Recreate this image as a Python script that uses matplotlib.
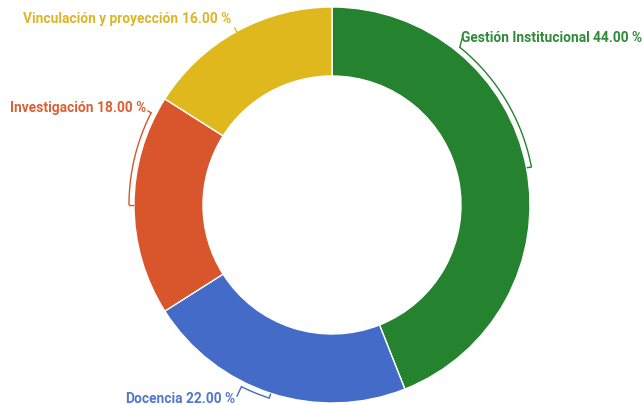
import numpy as np
import matplotlib
matplotlib.use("Agg")
import matplotlib.pyplot as plt

categories = ["Gestión Institucional", "Docencia", "Investigación", "Vinculación y proyección"]
values = [44.0, 22.0, 18.0, 16.0]
colors = ["#25832f", "#446bc8", "#d9552b", "#dfb81d"]
text_colors = ["#2f8a38", "#5277cc", "#dc5f36", "#ddb52a"]

W, H = 644, 406
fig = plt.figure(figsize=(W / 100, H / 100), dpi=100)
ax = fig.add_axes([0, 0, 1, 1])

cx, cy = 332, H - 206
R, r_in = 198, 129

ax.pie(values, colors=colors, startangle=90, counterclock=False,
       center=(cx, cy), radius=R, frame=True,
       wedgeprops=dict(width=R - r_in, edgecolor="white", linewidth=1))
ax.set_xlim(0, W)
ax.set_ylim(0, H)
ax.set_aspect("equal")
ax.axis("off")

def pt(angle_deg, rad):
    a = np.deg2rad(angle_deg)
    return cx + rad * np.sin(a), cy + rad * np.cos(a)

cum = np.cumsum([0] + values[:-1])
mids = [(c + v / 2) * 3.6 for c, v in zip(cum, values)]
bracket_ends = [39.0, 206.5, 297.0, mids[3]]
leader_to = [(462, 40), (237, 397), (148, 112), (237, 33)]
text_pos = [(461, 38, "left"), (235, 399, "right"), (146, 108, "right"), (231, 19, "right")]

rb = 203
fig.canvas.draw()
renderer = fig.canvas.get_renderer()
fs = 9.9
for i in range(4):
    col = colors[i]
    a0, a1 = mids[i], bracket_ends[i]
    if abs(a1 - a0) > 0.5:
        ang = np.linspace(a0, a1, 60)
        xs, ys = zip(*[pt(a, rb) for a in ang])
        ax.plot(xs, ys, color=col, lw=1, solid_capstyle="butt")
        x1, y1 = pt(a0, rb)
        x2, y2 = pt(a0, rb - 4)
        ax.plot([x1, x2], [y1, y2], color=col, lw=1)
        sx, sy = pt(a1, rb)
    else:
        sx, sy = pt(a1, rb - 1)
    lx, ly = leader_to[i]
    ax.plot([sx, lx], [sy, H - ly], color=col, lw=1)

    tx, ty, ha = text_pos[i]
    name = categories[i]
    num = f"{values[i]:.2f} %"
    kw = dict(color=text_colors[i], fontsize=fs, fontfamily="Roboto",
              fontweight="bold", va="center")
    gap = 3.5
    if ha == "left":
        t1 = ax.text(tx, H - ty, name, ha="left", **kw)
        bb = t1.get_window_extent(renderer)
        ax.text(bb.x1 + gap, H - ty, num, ha="left", **kw)
    else:
        t2 = ax.text(tx, H - ty, num, ha="right", **kw)
        bb = t2.get_window_extent(renderer)
        ax.text(bb.x0 - gap, H - ty, name, ha="right", **kw)

fig.savefig("out.png", dpi=100)
